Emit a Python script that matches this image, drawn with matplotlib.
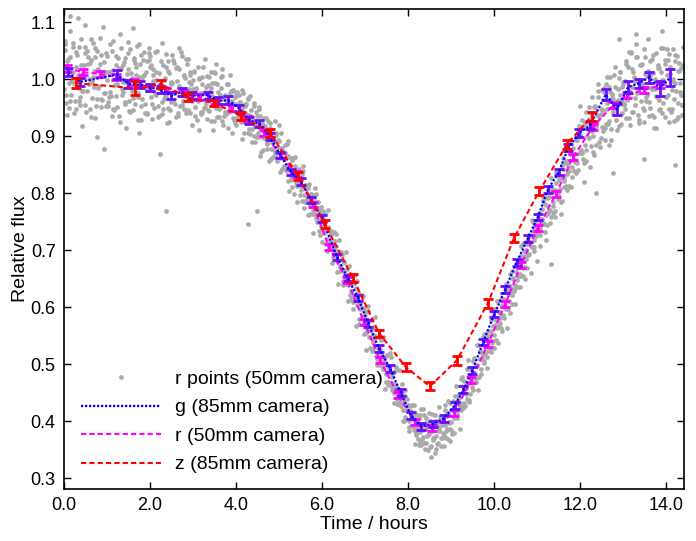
import numpy as np
import matplotlib
matplotlib.use("Agg")
import matplotlib.pyplot as plt
from matplotlib.lines import Line2D

plt.rcParams['font.family'] = ['Liberation Sans', 'DejaVu Sans']

# binned light curves, times in hours
g_t = [0.10, 0.37, 1.23, 1.50, 1.76, 2.00, 2.25, 2.49, 2.74, 2.98, 3.34, 3.58, 3.82, 4.07, 4.30,
       4.54, 4.79, 5.03, 5.28, 5.51, 5.75, 6.00, 6.35, 6.60, 6.84, 7.07, 7.33, 7.58, 7.83, 8.07,
       8.31, 8.58, 8.84, 9.09, 9.29, 9.50, 9.75, 10.01, 10.26, 10.53, 10.79, 11.02, 11.26, 11.51,
       11.73, 11.98, 12.23, 12.60, 12.86, 13.12, 13.37, 13.61, 13.86, 14.10]
g_f = [1.012, 0.995, 1.008, 0.992, 0.990, 0.985, 0.982, 0.971, 0.977, 0.971, 0.972, 0.962, 0.963, 0.949, 0.928,
       0.922, 0.899, 0.867, 0.837, 0.820, 0.788, 0.756, 0.688, 0.651, 0.616, 0.572, 0.527, 0.493, 0.450, 0.410,
       0.391, 0.395, 0.405, 0.428, 0.455, 0.489, 0.539, 0.588, 0.631, 0.679, 0.721, 0.758, 0.807, 0.837,
       0.880, 0.905, 0.919, 0.973, 0.947, 0.986, 0.993, 1.003, 0.984, 1.003]
g_err = [0.007, 0.007, 0.008, 0.007, 0.006, 0.006, 0.006, 0.006, 0.007, 0.006, 0.006, 0.006, 0.007, 0.006, 0.006,
         0.006, 0.006, 0.006, 0.006, 0.006, 0.006, 0.006, 0.006, 0.006, 0.006, 0.006, 0.006, 0.006, 0.006, 0.006,
         0.006, 0.006, 0.006, 0.006, 0.006, 0.006, 0.006, 0.006, 0.006, 0.006, 0.006, 0.006, 0.006, 0.006,
         0.006, 0.007, 0.007, 0.009, 0.010, 0.010, 0.008, 0.010, 0.013, 0.015]

r_t = [0.07, 0.45, 0.84, 1.22, 1.62, 2.00, 2.38, 2.76, 3.14, 3.52, 3.90, 4.28, 4.66, 5.04, 5.42, 5.79,
       6.16, 6.58, 6.98, 7.35, 7.77, 8.16, 8.56, 9.07, 9.47, 9.86, 10.26, 10.63, 11.02, 11.44, 11.84,
       12.30, 12.77, 13.09, 13.49, 13.86]
r_f = [1.019, 1.012, 1.009, 1.004, 0.995, 0.985, 0.980, 0.976, 0.969, 0.961, 0.949, 0.930, 0.905, 0.866, 0.833, 0.780,
       0.706, 0.648, 0.574, 0.507, 0.446, 0.398, 0.388, 0.414, 0.472, 0.535, 0.605, 0.674, 0.739, 0.798, 0.863,
       0.916, 0.954, 0.972, 0.981, 0.989]
r_err = [0.006, 0.005, 0.005, 0.005, 0.005, 0.005, 0.005, 0.005, 0.005, 0.005, 0.005, 0.005, 0.005, 0.005, 0.005, 0.005,
         0.005, 0.005, 0.005, 0.005, 0.005, 0.005, 0.005, 0.005, 0.005, 0.005, 0.005, 0.005, 0.005, 0.005, 0.005,
         0.005, 0.005, 0.005, 0.005, 0.005]

z_t = [0.28, 1.65, 2.26, 2.88, 3.50, 4.12, 4.80, 5.44, 6.07, 6.72, 7.33, 7.95, 8.51, 9.14, 9.86,
       10.47, 11.05, 11.70, 12.28]
z_f = [0.993, 0.984, 0.991, 0.968, 0.958, 0.935, 0.905, 0.830, 0.745, 0.651, 0.554, 0.495, 0.461, 0.507, 0.607,
       0.722, 0.803, 0.886, 0.935]
z_err = [0.009, 0.012, 0.007, 0.007, 0.006, 0.007, 0.007, 0.007, 0.007, 0.007, 0.006, 0.007, 0.007, 0.008, 0.008,
         0.007, 0.007, 0.008, 0.008]

pts_t = [0.02, 0.05, 0.08, 0.11, 0.14, 0.17, 0.2, 0.23, 0.27, 0.3, 0.33, 0.36, 0.4, 0.43, 0.46, 0.5, 0.53, 0.56, 0.6, 0.63, 0.66, 0.7, 0.73, 0.76, 0.8, 0.83, 0.86, 0.9, 0.93, 0.97,
         1.01, 1.04, 1.08, 1.11, 1.14, 1.18, 1.21, 1.24, 1.28, 1.31, 1.34, 1.38, 1.41, 1.44, 1.48, 1.51, 1.54, 1.58, 1.61, 1.64, 1.68, 1.71, 1.74, 1.78, 1.81, 1.84, 1.88, 1.91, 1.94, 1.98,
         2.01, 2.04, 2.08, 2.11, 2.14, 2.18, 2.21, 2.24, 2.28, 2.31, 2.34, 2.38, 2.41, 2.44, 2.48, 2.51, 2.54, 2.58, 2.61, 2.64, 2.68, 2.71, 2.74, 2.78, 2.81, 2.84, 2.88, 2.91, 2.94, 2.98,
         3.01, 3.04, 3.08, 3.11, 3.14, 3.18, 3.21, 3.24, 3.28, 3.31, 3.34, 3.38, 3.41, 3.44, 3.48, 3.51, 3.54, 3.58, 3.61, 3.64, 3.68, 3.71, 3.74, 3.78, 3.81, 3.84, 3.88, 3.91, 3.94, 3.98,
         4.01, 4.04, 4.08, 4.11, 4.14, 4.18, 4.21, 4.24, 4.28, 4.31, 4.34, 4.38, 4.41, 4.44, 4.48, 4.51, 4.54, 4.58, 4.61, 4.64, 4.68, 4.71, 4.74, 4.78, 4.81, 4.84, 4.88, 4.91, 4.94, 4.98,
         5.01, 5.04, 5.08, 5.11, 5.14, 5.18, 5.21, 5.24, 5.28, 5.31, 5.34, 5.38, 5.41, 5.44, 5.48, 5.51, 5.54, 5.58, 5.61, 5.64, 5.68, 5.71, 5.74, 5.78, 5.81, 5.84, 5.88, 5.91, 5.94, 5.98,
         6.01, 6.04, 6.08, 6.11, 6.14, 6.18, 6.21, 6.24, 6.28, 6.31, 6.34, 6.38, 6.41, 6.44, 6.48, 6.51, 6.54, 6.58, 6.61, 6.64, 6.68, 6.71, 6.74, 6.78, 6.81, 6.84, 6.88, 6.91, 6.94, 6.98,
         7.01, 7.04, 7.08, 7.11, 7.14, 7.18, 7.21, 7.24, 7.28, 7.31, 7.34, 7.38, 7.41, 7.44, 7.48, 7.51, 7.54, 7.58, 7.61, 7.64, 7.68, 7.71, 7.74, 7.78, 7.81, 7.84, 7.88, 7.91, 7.94, 7.98,
         8.01, 8.03, 8.06, 8.08, 8.11, 8.13, 8.16, 8.18, 8.21, 8.23, 8.26, 8.28, 8.31, 8.33, 8.36, 8.38, 8.41, 8.43, 8.46, 8.48,
         8.51, 8.53, 8.56, 8.58, 8.61, 8.63, 8.66, 8.68, 8.71, 8.73, 8.76, 8.78, 8.81, 8.83, 8.86, 8.88, 8.91, 8.93, 8.96, 8.98,
         9.01, 9.04, 9.08, 9.11, 9.14, 9.18, 9.21, 9.24, 9.28, 9.31, 9.34, 9.38, 9.41, 9.44, 9.48, 9.51, 9.54, 9.58, 9.61, 9.64, 9.68, 9.71, 9.74, 9.78, 9.81, 9.84, 9.88, 9.91, 9.94, 9.98,
         10.01, 10.04, 10.08, 10.11, 10.14, 10.18, 10.21, 10.24, 10.28, 10.31, 10.34, 10.38, 10.41, 10.44, 10.48, 10.51, 10.54, 10.58, 10.61, 10.64, 10.68, 10.71, 10.74, 10.78, 10.81, 10.84, 10.88, 10.91, 10.94, 10.98,
         11.01, 11.04, 11.08, 11.11, 11.14, 11.18, 11.21, 11.24, 11.28, 11.31, 11.34, 11.38, 11.41, 11.44, 11.48, 11.51, 11.54, 11.58, 11.61, 11.64, 11.68, 11.71, 11.74, 11.78, 11.81, 11.84, 11.88, 11.91, 11.94, 11.98,
         12.01, 12.04, 12.08, 12.11, 12.14, 12.18, 12.21, 12.24, 12.28, 12.31, 12.34, 12.38, 12.41, 12.44, 12.48, 12.51, 12.54, 12.58, 12.61, 12.64, 12.68, 12.71, 12.74, 12.78, 12.81, 12.84, 12.88, 12.91, 12.94, 12.98,
         13.01, 13.04, 13.08, 13.11, 13.14, 13.18, 13.21, 13.24, 13.28, 13.31, 13.34, 13.38, 13.41, 13.44, 13.48, 13.51, 13.54, 13.58, 13.61, 13.64, 13.68, 13.71, 13.74, 13.78, 13.81, 13.84, 13.88, 13.91, 13.94, 13.98,
         14.01, 14.04, 14.07, 14.1, 14.13, 14.16, 14.19, 14.22, 14.25, 14.28, 14.31, 14.34, 14.37, 14.4,
         0.93, 0.77, 2.37, 2.23, 4.29, 4.48, 1.75, 3.15, 12.37, 12.77, 12.1, 11.33, 14.2, 13.5, 0.15, 0.5, 1.6, 12.9, 13.3, 13.9]
pts_f = [1.062, 0.958, 1.031, 0.994, 1.085, 0.972, 1.013, 0.941, 1.047, 0.987, 1.108, 0.962, 1.024, 0.918, 1.003, 1.056, 0.979, 1.038, 0.947, 1.071, 0.996, 1.015, 0.931, 1.049, 0.984, 1.027, 0.965, 1.092, 1.008, 0.953,
         1.041, 0.968, 1.012, 0.936, 1.066, 0.989, 1.024, 0.951, 1.003, 1.079, 0.972, 0.995, 1.037, 0.914, 1.018, 0.962, 1.052, 0.983, 0.945, 1.029, 1.007, 0.976, 1.061, 0.928, 0.998, 1.034, 0.957, 1.012, 0.941, 1.046,
         1.022, 0.957, 0.996, 1.048, 0.972, 0.934, 1.011, 0.985, 1.063, 0.948, 1.002, 0.969, 1.031, 0.924, 0.991, 1.042, 0.963, 0.978, 1.019, 0.941, 1.054, 0.983, 0.955, 1.008, 0.971, 1.036, 0.946, 0.995, 1.013, 0.962,
         0.998, 0.951, 0.982, 1.021, 0.967, 0.939, 1.004, 0.976, 1.035, 0.958, 0.989, 0.944, 1.012, 0.971, 0.927, 0.993, 1.027, 0.962, 0.948, 0.985, 1.006, 0.936, 0.973, 0.958, 0.991, 0.945, 0.979, 0.962, 0.931, 0.968,
         0.972, 0.931, 0.958, 0.944, 0.981, 0.926, 0.953, 0.938, 0.967, 0.912, 0.945, 0.929, 0.958, 0.917, 0.936, 0.905, 0.947, 0.921, 0.898, 0.932, 0.913, 0.887, 0.926, 0.902, 0.878, 0.911, 0.893, 0.869, 0.902, 0.881,
         0.892, 0.861, 0.879, 0.848, 0.871, 0.839, 0.866, 0.851, 0.823, 0.858, 0.834, 0.847, 0.812, 0.839, 0.821, 0.806, 0.833, 0.797, 0.815, 0.788, 0.809, 0.781, 0.798, 0.771, 0.792, 0.764, 0.785, 0.752, 0.774, 0.743,
         0.762, 0.734, 0.751, 0.719, 0.738, 0.702, 0.727, 0.712, 0.689, 0.716, 0.681, 0.698, 0.672, 0.691, 0.664, 0.679, 0.648, 0.667, 0.639, 0.655, 0.628, 0.646, 0.617, 0.634, 0.603, 0.624, 0.596, 0.611, 0.584, 0.598,
         0.586, 0.561, 0.574, 0.548, 0.559, 0.527, 0.546, 0.531, 0.509, 0.528, 0.498, 0.516, 0.491, 0.507, 0.482, 0.496, 0.468, 0.485, 0.461, 0.477, 0.449, 0.466, 0.439, 0.455, 0.428, 0.447, 0.419, 0.434, 0.408, 0.426,
         0.428, 0.401, 0.417, 0.392, 0.409, 0.384, 0.412, 0.376, 0.398, 0.369, 0.405, 0.381, 0.358, 0.394, 0.372, 0.411, 0.362, 0.387, 0.349, 0.378,
         0.401, 0.356, 0.383, 0.367, 0.392, 0.344, 0.374, 0.398, 0.361, 0.386, 0.371, 0.408, 0.379, 0.357, 0.393, 0.382, 0.414, 0.369, 0.398, 0.387,
         0.398, 0.421, 0.405, 0.433, 0.412, 0.441, 0.426, 0.419, 0.452, 0.431, 0.458, 0.439, 0.467, 0.448, 0.476, 0.455, 0.484, 0.469, 0.497, 0.478, 0.509, 0.491, 0.517, 0.502, 0.531, 0.513, 0.546, 0.527, 0.559, 0.541,
         0.551, 0.578, 0.563, 0.591, 0.572, 0.604, 0.587, 0.613, 0.596, 0.629, 0.611, 0.637, 0.622, 0.651, 0.634, 0.662, 0.647, 0.676, 0.658, 0.689, 0.669, 0.698, 0.684, 0.711, 0.693, 0.724, 0.706, 0.733, 0.718, 0.746,
         0.728, 0.757, 0.739, 0.772, 0.748, 0.781, 0.762, 0.744, 0.793, 0.771, 0.806, 0.784, 0.768, 0.817, 0.796, 0.829, 0.808, 0.786, 0.842, 0.821, 0.857, 0.834, 0.812, 0.868, 0.846, 0.879, 0.858, 0.836, 0.893, 0.871,
         0.902, 0.871, 0.918, 0.884, 0.856, 0.927, 0.896, 0.941, 0.909, 0.873, 0.952, 0.921, 0.968, 0.934, 0.897, 0.981, 0.946, 0.915, 0.992, 0.958, 0.927, 1.004, 0.969, 0.938, 1.021, 0.952, 0.983, 0.917, 1.012, 0.961,
         0.995, 0.948, 1.031, 0.972, 0.931, 1.047, 0.986, 1.013, 0.954, 1.062, 0.977, 0.923, 1.024, 0.991, 0.946, 1.038, 0.968, 1.071, 0.959, 1.005, 0.937, 1.043, 0.982, 0.914, 1.019, 0.963, 1.054, 0.941, 0.998, 1.027,
         0.968, 1.034, 0.947, 1.009, 0.981, 1.052, 0.926, 0.993, 1.041, 0.958, 1.015, 0.972, 0.937, 1.024,
         0.877, 0.898, 0.768, 0.868, 0.746, 0.769, 0.905, 0.910, 0.800, 0.835, 0.820, 0.675, 0.850, 0.860, 1.110, 1.095, 1.090, 1.070, 1.080, 1.085]

# second set of r measurements, same camera
pts2_t = [0.02, 0.05, 0.08, 0.12, 0.15, 0.18, 0.22, 0.25, 0.28, 0.32, 0.35, 0.38, 0.42, 0.45, 0.48, 0.52, 0.55, 0.58, 0.62, 0.65, 0.68, 0.72, 0.75, 0.78, 0.82, 0.85, 0.88, 0.92, 0.95, 0.98,
          1.02, 1.05, 1.08, 1.12, 1.15, 1.18, 1.22, 1.25, 1.28, 1.32, 1.35, 1.38, 1.42, 1.45, 1.48, 1.52, 1.55, 1.58, 1.62, 1.65, 1.68, 1.72, 1.75, 1.78, 1.82, 1.85, 1.88, 1.92, 1.95, 1.98,
          2.02, 2.05, 2.08, 2.12, 2.15, 2.18, 2.22, 2.25, 2.28, 2.32, 2.35, 2.38, 2.42, 2.45, 2.48, 2.52, 2.55, 2.58, 2.62, 2.65, 2.68, 2.72, 2.75, 2.78, 2.82, 2.85, 2.88, 2.92, 2.95, 2.98,
          3.02, 3.05, 3.08, 3.12, 3.15, 3.18, 3.22, 3.25, 3.28, 3.32, 3.35, 3.38, 3.42, 3.45, 3.48, 3.52, 3.55, 3.58, 3.62, 3.65, 3.68, 3.72, 3.75, 3.78, 3.82, 3.85, 3.88, 3.92, 3.95, 3.98,
          4.02, 4.05, 4.08, 4.12, 4.15, 4.18, 4.22, 4.25, 4.28, 4.32, 4.35, 4.38, 4.42, 4.45, 4.48, 4.52, 4.55, 4.58, 4.62, 4.65, 4.68, 4.72, 4.75, 4.78, 4.82, 4.85, 4.88, 4.92, 4.95, 4.98,
          5.02, 5.05, 5.08, 5.12, 5.15, 5.18, 5.22, 5.25, 5.28, 5.32, 5.35, 5.38, 5.42, 5.45, 5.48, 5.52, 5.55, 5.58, 5.62, 5.65, 5.68, 5.72, 5.75, 5.78, 5.82, 5.85, 5.88, 5.92, 5.95, 5.98,
          6.02, 6.05, 6.08, 6.12, 6.15, 6.18, 6.22, 6.25, 6.28, 6.32, 6.35, 6.38, 6.42, 6.45, 6.48, 6.52, 6.55, 6.58, 6.62, 6.65, 6.68, 6.72, 6.75, 6.78, 6.82, 6.85, 6.88, 6.92, 6.95, 6.98,
          7.02, 7.05, 7.08, 7.12, 7.15, 7.18, 7.22, 7.25, 7.28, 7.32, 7.35, 7.38, 7.42, 7.45, 7.48, 7.52, 7.55, 7.58, 7.62, 7.65, 7.68, 7.72, 7.75, 7.78, 7.82, 7.85, 7.88, 7.92, 7.95, 7.98,
          8.02, 8.05, 8.08, 8.12, 8.15, 8.18, 8.22, 8.25, 8.28, 8.32, 8.35, 8.38, 8.42, 8.45, 8.48, 8.52, 8.55, 8.58, 8.62, 8.65, 8.68, 8.72, 8.75, 8.78, 8.82, 8.85, 8.88, 8.92, 8.95, 8.98,
          9.02, 9.05, 9.08, 9.12, 9.15, 9.18, 9.22, 9.25, 9.28, 9.32, 9.35, 9.38, 9.42, 9.45, 9.48, 9.52, 9.55, 9.58, 9.62, 9.65, 9.68, 9.72, 9.75, 9.78, 9.82, 9.85, 9.88, 9.92, 9.95, 9.98,
          10.02, 10.05, 10.08, 10.12, 10.15, 10.18, 10.22, 10.25, 10.28, 10.32, 10.35, 10.38, 10.42, 10.45, 10.48, 10.52, 10.55, 10.58, 10.62, 10.65, 10.68, 10.72, 10.75, 10.78, 10.82, 10.85, 10.88, 10.92, 10.95, 10.98,
          11.02, 11.05, 11.08, 11.12, 11.15, 11.18, 11.22, 11.25, 11.28, 11.32, 11.35, 11.38, 11.42, 11.45, 11.48, 11.52, 11.55, 11.58, 11.62, 11.65, 11.68, 11.72, 11.75, 11.78, 11.82, 11.85, 11.88, 11.92, 11.95, 11.98,
          12.02, 12.05, 12.08, 12.12, 12.15, 12.18, 12.22, 12.25, 12.28, 12.32, 12.35, 12.38, 12.42, 12.45, 12.48, 12.52, 12.55, 12.58, 12.62, 12.65, 12.68, 12.72, 12.75, 12.78, 12.82, 12.85, 12.88, 12.92, 12.95, 12.98,
          13.02, 13.05, 13.08, 13.12, 13.15, 13.18, 13.22, 13.25, 13.28, 13.32, 13.35, 13.38, 13.42, 13.45, 13.48, 13.52, 13.55, 13.58, 13.62, 13.65, 13.68, 13.72, 13.75, 13.78, 13.82, 13.85, 13.88, 13.92, 13.95, 13.98,
          14.02, 14.05, 14.08, 14.12, 14.15, 14.18, 14.22, 14.25, 14.28, 14.32, 14.35, 14.38]
pts2_f = [1.051, 0.973, 1.015, 0.949, 1.039, 0.997, 1.063, 0.961, 1.021, 0.985, 1.057, 0.955, 1.009, 0.979, 1.045, 0.943, 1.027, 0.991, 1.033, 0.967, 1.003, 1.054, 0.952, 1.018, 0.988, 1.042, 0.964, 1.030, 0.976, 1.012,
          0.953, 1.013, 0.977, 1.049, 0.947, 1.001, 0.971, 1.037, 0.935, 1.019, 0.983, 1.025, 0.959, 0.995, 1.046, 0.944, 1.010, 0.980, 1.034, 0.956, 1.022, 0.968, 1.004, 1.043, 0.965, 1.007, 0.941, 1.031, 0.989, 1.055,
          1.024, 0.930, 1.007, 0.974, 1.013, 0.952, 0.985, 1.032, 0.938, 0.999, 0.971, 1.021, 0.949, 1.010, 0.960, 0.993, 1.029, 0.957, 0.996, 0.935, 1.018, 0.980, 1.040, 0.947, 1.002, 0.969, 1.035, 0.941, 0.991, 0.963,
          1.013, 0.936, 0.985, 0.962, 1.001, 0.943, 0.991, 0.950, 0.977, 1.005, 0.946, 0.977, 0.927, 0.993, 0.961, 1.010, 0.933, 0.978, 0.950, 1.003, 0.926, 0.966, 0.942, 0.992, 0.914, 0.976, 0.949, 0.980, 0.929, 0.956,
          0.934, 0.953, 0.973, 0.925, 0.947, 0.906, 0.956, 0.929, 0.965, 0.903, 0.936, 0.912, 0.952, 0.890, 0.919, 0.899, 0.935, 0.873, 0.919, 0.896, 0.918, 0.877, 0.895, 0.923, 0.860, 0.897, 0.876, 0.906, 0.857, 0.894,
          0.871, 0.906, 0.842, 0.873, 0.848, 0.886, 0.822, 0.850, 0.828, 0.862, 0.798, 0.843, 0.818, 0.839, 0.796, 0.812, 0.838, 0.774, 0.809, 0.787, 0.815, 0.764, 0.799, 0.763, 0.780, 0.799, 0.750, 0.769, 0.727, 0.775,
          0.754, 0.730, 0.763, 0.698, 0.741, 0.714, 0.733, 0.688, 0.703, 0.728, 0.662, 0.695, 0.671, 0.697, 0.645, 0.679, 0.641, 0.656, 0.673, 0.621, 0.640, 0.596, 0.643, 0.612, 0.645, 0.579, 0.608, 0.582, 0.619, 0.553,
          0.554, 0.570, 0.594, 0.529, 0.563, 0.539, 0.566, 0.515, 0.548, 0.511, 0.527, 0.544, 0.494, 0.513, 0.469, 0.516, 0.486, 0.519, 0.454, 0.484, 0.458, 0.495, 0.430, 0.456, 0.433, 0.466, 0.401, 0.445, 0.419, 0.438,
          0.390, 0.426, 0.391, 0.408, 0.428, 0.380, 0.400, 0.359, 0.410, 0.385, 0.422, 0.362, 0.396, 0.374, 0.415, 0.355, 0.387, 0.370, 0.410, 0.351, 0.401, 0.382, 0.408, 0.371, 0.395, 0.428, 0.370, 0.412, 0.397, 0.432,
          0.378, 0.436, 0.417, 0.461, 0.406, 0.447, 0.431, 0.478, 0.423, 0.460, 0.448, 0.492, 0.437, 0.491, 0.475, 0.506, 0.472, 0.498, 0.533, 0.478, 0.522, 0.510, 0.547, 0.506, 0.550, 0.523, 0.549, 0.578, 0.537, 0.567,
          0.597, 0.543, 0.581, 0.569, 0.613, 0.559, 0.614, 0.599, 0.630, 0.597, 0.623, 0.659, 0.605, 0.650, 0.638, 0.676, 0.635, 0.680, 0.654, 0.681, 0.710, 0.671, 0.700, 0.668, 0.726, 0.708, 0.752, 0.699, 0.739, 0.724,
          0.732, 0.765, 0.726, 0.755, 0.794, 0.731, 0.780, 0.765, 0.806, 0.759, 0.808, 0.777, 0.806, 0.837, 0.790, 0.823, 0.784, 0.849, 0.826, 0.875, 0.812, 0.857, 0.838, 0.891, 0.828, 0.869, 0.854, 0.903, 0.840, 0.901,
          0.876, 0.929, 0.860, 0.923, 0.876, 0.912, 0.951, 0.883, 0.924, 0.867, 0.951, 0.916, 0.979, 0.889, 0.947, 0.916, 0.985, 0.894, 0.947, 0.922, 0.986, 0.894, 0.974, 0.944, 0.986, 0.928, 0.963, 1.013, 0.922, 0.986,
          0.955, 0.997, 0.931, 1.021, 0.979, 1.045, 0.943, 1.003, 0.967, 1.039, 0.937, 0.991, 0.961, 1.027, 0.925, 1.009, 0.973, 1.015, 0.949, 0.985, 1.036, 0.934, 1.000, 0.970, 1.024, 0.946, 1.012, 0.958, 0.994, 1.033,
          1.008, 0.972, 1.044, 0.942, 0.996, 0.966, 1.032, 0.930, 1.014, 0.978, 1.020, 0.954]

# third set of r measurements
pts3_t = [0.01, 0.03, 0.07, 0.10, 0.13, 0.17, 0.20, 0.23, 0.27, 0.30, 0.33, 0.37, 0.40, 0.43, 0.47, 0.50, 0.53, 0.57, 0.60, 0.63, 0.67, 0.70, 0.73, 0.77, 0.80, 0.83, 0.87, 0.90, 0.93, 0.97,
          1.00, 1.03, 1.07, 1.10, 1.13, 1.17, 1.20, 1.23, 1.27, 1.30, 1.33, 1.37, 1.40, 1.43, 1.47, 1.50, 1.53, 1.57, 1.60, 1.63, 1.67, 1.70, 1.73, 1.77, 1.80, 1.83, 1.87, 1.90, 1.93, 1.97,
          2.00, 2.03, 2.07, 2.10, 2.13, 2.17, 2.20, 2.23, 2.27, 2.30, 2.33, 2.37, 2.40, 2.43, 2.47, 2.50, 2.53, 2.57, 2.60, 2.63, 2.67, 2.70, 2.73, 2.77, 2.80, 2.83, 2.87, 2.90, 2.93, 2.97,
          3.00, 3.03, 3.07, 3.10, 3.13, 3.17, 3.20, 3.23, 3.27, 3.30, 3.33, 3.37, 3.40, 3.43, 3.47, 3.50, 3.53, 3.57, 3.60, 3.63, 3.67, 3.70, 3.73, 3.77, 3.80, 3.83, 3.87, 3.90, 3.93, 3.97,
          4.00, 4.03, 4.07, 4.10, 4.13, 4.17, 4.20, 4.23, 4.27, 4.30, 4.33, 4.37, 4.40, 4.43, 4.47, 4.50, 4.53, 4.57, 4.60, 4.63, 4.67, 4.70, 4.73, 4.77, 4.80, 4.83, 4.87, 4.90, 4.93, 4.97,
          5.00, 5.03, 5.07, 5.10, 5.13, 5.17, 5.20, 5.23, 5.27, 5.30, 5.33, 5.37, 5.40, 5.43, 5.47, 5.50, 5.53, 5.57, 5.60, 5.63, 5.67, 5.70, 5.73, 5.77, 5.80, 5.83, 5.87, 5.90, 5.93, 5.97,
          6.00, 6.03, 6.07, 6.10, 6.13, 6.17, 6.20, 6.23, 6.27, 6.30, 6.33, 6.37, 6.40, 6.43, 6.47, 6.50, 6.53, 6.57, 6.60, 6.63, 6.67, 6.70, 6.73, 6.77, 6.80, 6.83, 6.87, 6.90, 6.93, 6.97,
          7.00, 7.03, 7.07, 7.10, 7.13, 7.17, 7.20, 7.23, 7.27, 7.30, 7.33, 7.37, 7.40, 7.43, 7.47, 7.50, 7.53, 7.57, 7.60, 7.63, 7.67, 7.70, 7.73, 7.77, 7.80, 7.83, 7.87, 7.90, 7.93, 7.97,
          8.00, 8.03, 8.07, 8.10, 8.13, 8.17, 8.20, 8.23, 8.27, 8.30, 8.33, 8.37, 8.40, 8.43, 8.47, 8.50, 8.53, 8.57, 8.60, 8.63, 8.67, 8.70, 8.73, 8.77, 8.80, 8.83, 8.87, 8.90, 8.93, 8.97,
          9.00, 9.03, 9.07, 9.10, 9.13, 9.17, 9.20, 9.23, 9.27, 9.30, 9.33, 9.37, 9.40, 9.43, 9.47, 9.50, 9.53, 9.57, 9.60, 9.63, 9.67, 9.70, 9.73, 9.77, 9.80, 9.83, 9.87, 9.90, 9.93, 9.97,
          10.00, 10.03, 10.07, 10.10, 10.13, 10.17, 10.20, 10.23, 10.27, 10.30, 10.33, 10.37, 10.40, 10.43, 10.47, 10.50, 10.53, 10.57, 10.60, 10.63, 10.67, 10.70, 10.73, 10.77, 10.80, 10.83, 10.87, 10.90, 10.93, 10.97,
          11.00, 11.03, 11.07, 11.10, 11.13, 11.17, 11.20, 11.23, 11.27, 11.30, 11.33, 11.37, 11.40, 11.43, 11.47, 11.50, 11.53, 11.57, 11.60, 11.63, 11.67, 11.70, 11.73, 11.77, 11.80, 11.83, 11.87, 11.90, 11.93, 11.97,
          12.00, 12.03, 12.07, 12.10, 12.13, 12.17, 12.20, 12.23, 12.27, 12.30, 12.33, 12.37, 12.40, 12.43, 12.47, 12.50, 12.53, 12.57, 12.60, 12.63, 12.67, 12.70, 12.73, 12.77, 12.80, 12.83, 12.87, 12.90, 12.93, 12.97,
          13.00, 13.03, 13.07, 13.10, 13.13, 13.17, 13.20, 13.23, 13.27, 13.30, 13.33, 13.37, 13.40, 13.43, 13.47, 13.50, 13.53, 13.57, 13.60, 13.63, 13.67, 13.70, 13.73, 13.77, 13.80, 13.83, 13.87, 13.90, 13.93, 13.97,
          14.00, 14.03, 14.07, 14.10, 14.13, 14.17, 14.20, 14.23, 14.27, 14.30, 14.33, 14.37, 14.40]
pts3_f = [0.982, 1.066, 0.937, 1.035, 0.961, 1.014, 1.056, 0.993, 0.947, 1.042, 1.007, 0.968, 1.070, 0.979, 1.024, 0.954, 1.049, 1.000, 1.028, 0.933, 1.063, 0.986, 1.038, 0.965, 1.017, 1.073, 0.951, 1.010, 0.975, 1.045,
          0.999, 0.960, 1.062, 0.971, 1.016, 0.946, 1.041, 0.992, 1.020, 0.925, 1.055, 0.978, 1.030, 0.957, 1.009, 1.065, 0.943, 1.002, 0.967, 1.037, 0.974, 1.058, 0.929, 1.027, 0.953, 1.006, 1.048, 0.985, 0.939, 1.034,
          1.040, 0.969, 1.018, 0.949, 0.998, 1.050, 0.936, 0.992, 0.959, 1.024, 0.966, 1.044, 0.923, 1.014, 0.946, 0.995, 1.034, 0.975, 0.933, 1.021, 0.988, 0.953, 1.047, 0.962, 1.005, 0.940, 1.027, 0.982, 1.008, 0.920,
          0.983, 1.015, 0.966, 0.929, 1.002, 0.975, 0.943, 1.022, 0.951, 0.986, 0.930, 1.004, 0.964, 0.985, 0.911, 1.012, 0.950, 0.992, 0.933, 0.973, 1.017, 0.920, 0.966, 0.938, 0.992, 0.942, 1.008, 0.905, 0.981, 0.923,
          0.919, 0.977, 0.943, 0.959, 0.895, 0.976, 0.924, 0.956, 0.905, 0.937, 0.970, 0.889, 0.925, 0.900, 0.942, 0.899, 0.951, 0.865, 0.925, 0.876, 0.907, 0.932, 0.888, 0.857, 0.915, 0.890, 0.863, 0.926, 0.864, 0.892,
          0.920, 0.837, 0.872, 0.844, 0.885, 0.841, 0.891, 0.803, 0.862, 0.810, 0.840, 0.863, 0.818, 0.785, 0.842, 0.814, 0.786, 0.847, 0.784, 0.810, 0.761, 0.816, 0.781, 0.795, 0.730, 0.809, 0.756, 0.785, 0.733, 0.763,
          0.714, 0.769, 0.740, 0.710, 0.770, 0.705, 0.729, 0.678, 0.732, 0.696, 0.708, 0.641, 0.718, 0.663, 0.691, 0.638, 0.666, 0.696, 0.611, 0.644, 0.615, 0.655, 0.609, 0.657, 0.567, 0.624, 0.571, 0.600, 0.621, 0.574,
          0.591, 0.525, 0.602, 0.548, 0.577, 0.523, 0.552, 0.583, 0.498, 0.532, 0.504, 0.543, 0.498, 0.547, 0.457, 0.515, 0.463, 0.491, 0.513, 0.467, 0.432, 0.488, 0.460, 0.430, 0.490, 0.426, 0.450, 0.400, 0.455, 0.418,
          0.428, 0.383, 0.409, 0.429, 0.390, 0.360, 0.411, 0.388, 0.364, 0.421, 0.368, 0.393, 0.352, 0.405, 0.376, 0.392, 0.338, 0.413, 0.370, 0.401, 0.360, 0.391, 0.425, 0.356, 0.393, 0.376, 0.419, 0.386, 0.436, 0.365,
          0.384, 0.419, 0.379, 0.445, 0.419, 0.442, 0.386, 0.474, 0.430, 0.470, 0.427, 0.466, 0.507, 0.433, 0.477, 0.460, 0.510, 0.474, 0.534, 0.455, 0.523, 0.482, 0.521, 0.553, 0.517, 0.493, 0.559, 0.542, 0.522, 0.593,
          0.528, 0.568, 0.610, 0.537, 0.581, 0.564, 0.615, 0.581, 0.641, 0.563, 0.631, 0.590, 0.630, 0.663, 0.628, 0.605, 0.671, 0.654, 0.636, 0.707, 0.654, 0.690, 0.650, 0.716, 0.691, 0.715, 0.660, 0.749, 0.705, 0.745,
          0.681, 0.756, 0.708, 0.751, 0.786, 0.746, 0.718, 0.791, 0.771, 0.748, 0.826, 0.766, 0.803, 0.758, 0.831, 0.801, 0.826, 0.763, 0.861, 0.811, 0.853, 0.806, 0.848, 0.893, 0.811, 0.858, 0.838, 0.893, 0.853, 0.918,
          0.952, 0.870, 0.916, 0.853, 0.943, 0.901, 0.930, 0.845, 0.968, 0.900, 0.951, 0.885, 0.937, 0.992, 0.881, 0.939, 0.909, 0.977, 0.922, 1.003, 0.885, 0.978, 0.913, 0.965, 1.007, 0.951, 0.911, 1.002, 0.972, 0.940,
          0.992, 0.957, 1.027, 0.964, 1.048, 0.919, 1.017, 0.943, 0.996, 1.038, 0.975, 0.929, 1.024, 0.989, 0.950, 1.052, 0.961, 1.006, 0.936, 1.031, 0.982, 1.010, 0.915, 1.045, 0.968, 1.020, 0.947, 0.999, 1.055, 0.933,
          0.969, 1.053, 0.924, 1.022, 0.948, 1.001, 1.043, 0.980, 0.934, 1.029, 0.994, 0.955, 1.057]

fig = plt.figure(figsize=(6.96, 5.41), dpi=100)
ax = fig.add_axes([64/696, 1-489/541, 620/696, 480/541])

gray = '#aaaaaa'
for tt, ff in [(pts_t, pts_f), (pts2_t, pts2_f), (pts3_t, pts3_f)]:
    ax.plot(tt, ff, 'o', color=gray, ms=3.4, mew=0, zorder=1)

ax.errorbar(r_t, r_f, yerr=r_err, color='magenta', ls=(0, (2.5, 1.5)), lw=1.5,
            ecolor='magenta', elinewidth=2, capsize=3.6, capthick=2, zorder=2)
ax.errorbar(g_t, g_f, yerr=g_err, color='blue', ls=(0, (1, 0.8)), lw=1.6,
            ecolor='#6a10ff', elinewidth=2, capsize=3.6, capthick=2, zorder=3)
ax.errorbar(z_t, z_f, yerr=z_err, color='red', ls=(0, (2.5, 1.5)), lw=1.5,
            ecolor='red', elinewidth=2, capsize=3.6, capthick=2, zorder=4)

ax.set_xlim(0, 14.42)
ax.set_ylim(0.281, 1.123)
ax.set_xticks([0, 2, 4, 6, 8, 10, 12, 14])
ax.set_yticks([0.3, 0.4, 0.5, 0.6, 0.7, 0.8, 0.9, 1.0, 1.1])
ax.xaxis.set_major_formatter(matplotlib.ticker.FormatStrFormatter('%.1f'))
ax.yaxis.set_major_formatter(matplotlib.ticker.FormatStrFormatter('%.1f'))
ax.tick_params(direction='in', top=True, right=True, length=5, width=1, labelsize=13, pad=6)
for s in ax.spines.values():
    s.set_linewidth(1.2)

ax.set_xlabel('Time / hours', fontsize=14, labelpad=1)
ax.set_ylabel('Relative flux', fontsize=14, labelpad=1)

handles = [Line2D([], [], ls='none', marker='o', color=gray, ms=3.4, mew=0),
           Line2D([], [], color='blue', ls=(0, (1, 0.8)), lw=1.6),
           Line2D([], [], color='magenta', ls=(0, (2.5, 1.5)), lw=1.5),
           Line2D([], [], color='red', ls=(0, (2.5, 1.5)), lw=1.5)]
labels = ['r points (50mm camera)', 'g (85mm camera)', 'r (50mm camera)', 'z (85mm camera)']
ax.legend(handles, labels, loc='lower left', bbox_to_anchor=(-0.001, -0.004), frameon=False,
          fontsize=14, handlelength=4.1, handletextpad=0.75, labelspacing=0.56, numpoints=1)

fig.savefig('out.png', dpi=100)
